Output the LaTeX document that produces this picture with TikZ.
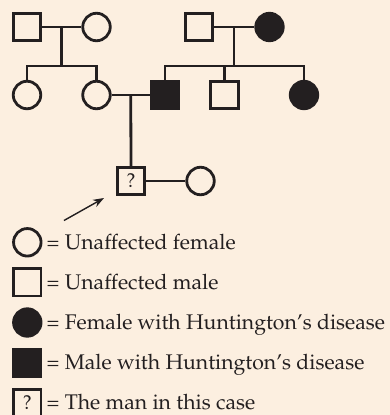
\documentclass[tikz,border=0pt]{standalone}
\usepackage[T1]{fontenc}
\usepackage{mathpazo}
\usetikzlibrary{arrows.meta}
\definecolor{paper}{HTML}{FCEFE0}
\definecolor{ink}{HTML}{231F20}
\tikzset{
  x=1pt, y=-1pt,
  female/.style={circle, draw=ink, line width=2.8pt, minimum size=27.5pt, inner sep=0pt},
  male/.style={rectangle, draw=ink, line width=2.8pt, minimum size=27.5pt, inner sep=0pt},
  femaleHD/.style={female, fill=ink},
  maleHD/.style={male, fill=ink},
  link/.style={line width=2.8pt, draw=ink},
  legendtext/.style={anchor=base west, inner sep=0pt, text=ink, font=\fontsize{21.2}{25}\selectfont},
  qmark/.style={male, text=ink, font=\fontsize{20}{24}\selectfont}
}
\begin{document}
\begin{tikzpicture}
\fill[paper] (0,0) rectangle (390,415);
\useasboundingbox (0,0) rectangle (390,415);
\clip (0,0) rectangle (390,415);

% generation I
\node[male] (gf1) at (27,27) {};
\node[female] (gm1) at (96.5,27) {};
\node[male] (gf2) at (199,27) {};
\node[femaleHD] (gm2) at (269.5,27) {};

% generation II
\node[female] (c1) at (27,95) {};
\node[female] (mother) at (96.5,95) {};
\node[maleHD] (father) at (165,95) {};
\node[male] (c4) at (224.5,95) {};
\node[femaleHD] (c5) at (304,95) {};

% generation III
\node[qmark] (man) at (131,181) {?};
\node[female] (wife) at (200.5,181) {};

% marriages and sibships, left family
\draw[link] (gf1) -- coordinate (m1) (gm1);
\coordinate (s1) at (m1 |- 0,66);
\draw[link] (m1) -- (s1);
\draw[link] (c1.north) |- (s1) -| (mother.north);

% marriages and sibships, right family
\draw[link] (gf2) -- coordinate (m2) (gm2);
\coordinate (s2) at (234,66);
\draw[link] (234,27) -- (s2);
\draw[link] (father.north) |- (s2) -| (c5.north);
\draw[link] (c4.north) -- (c4.north |- s2);

% parents of the man, and his marriage
\draw[link] (mother) -- coordinate (m3) (father);
\draw[link] (m3) -- (man.north);
\draw[link] (man) -- (wife);

% pointer to the man
\coordinate (ptail) at (64,220.5);
\coordinate (phead) at (104,198);
\draw[ink, line width=1.4pt, -{Stealth[length=11pt,width=8pt]}] (ptail) -- (phead);

% legend
\node[female] (k1) at (27.3,242.3) {};
\node[male] (k2) at (27.3,282.3) {};
\node[femaleHD] (k3) at (27.3,322.5) {};
\node[maleHD] (k4) at (27.3,362.7) {};
\node[qmark] (k5) at (27.3,403) {?};
\node[legendtext] (t1) at (46.5,249.5) {= Unaffected female};
\node[legendtext] (t2) at (46.5,289.5) {= Unaffected male};
\node[legendtext] (t3) at (46.5,329.5) {= Female with Huntington's disease};
\node[legendtext] (t4) at (46.5,369.5) {= Male with Huntington's disease};
\node[legendtext] (t5) at (46.5,409.5) {= The man in this case};
\end{tikzpicture}
\end{document}
